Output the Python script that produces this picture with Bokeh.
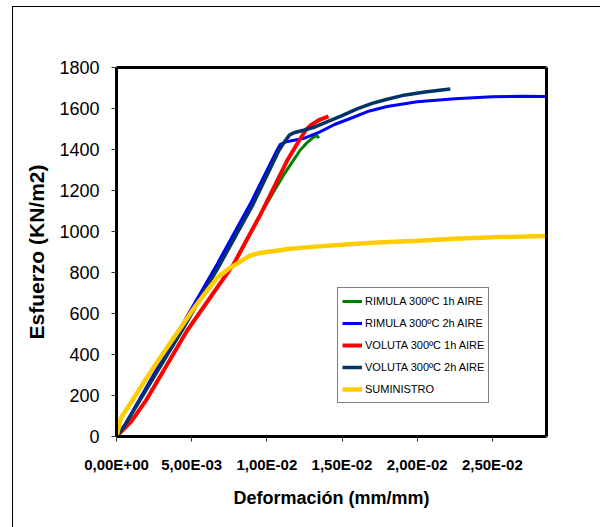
from bokeh.plotting import figure
from bokeh.models import (FixedTicker, CustomJSTickFormatter, Legend, LegendItem,
                          Range1d, LinearAxis)
from bokeh.embed import file_html
from bokeh.resources import INLINE

# ---------------- data ----------------
green_x = [0, 0.001, 0.002, 0.0047, 0.0078, 0.0096, 0.0105, 0.0112, 0.0117, 0.0122, 0.0127, 0.0131, 0.01335, 0.01345]
green_y = [0, 75, 180, 517, 842, 1086, 1200, 1285, 1340, 1395, 1435, 1460, 1467, 1455]

blue_x = [0, 0.0005, 0.00415, 0.0067, 0.0089, 0.0107, 0.0109, 0.0113, 0.0125, 0.0135, 0.0145, 0.0155, 0.0167,
          0.018, 0.020, 0.0225, 0.025, 0.027, 0.0286]
blue_y = [0, 50, 517, 842, 1135, 1400, 1425, 1438, 1455, 1485, 1522, 1550, 1585,
          1610, 1633, 1648, 1657, 1660, 1658]

red_x = [0, 0.001, 0.002, 0.0047, 0.0078, 0.0096, 0.01135, 0.0122, 0.0126, 0.0129, 0.0135, 0.0141]
red_y = [0, 75, 180, 517, 842, 1086, 1346, 1450, 1495, 1517, 1545, 1561]

navy_x = [0, 0.0005, 0.00435, 0.0069, 0.0091, 0.0108, 0.0112, 0.0115, 0.0118, 0.0125, 0.0132, 0.014, 0.015,
          0.016, 0.017, 0.018, 0.019, 0.0205, 0.0222]
navy_y = [0, 48, 517, 842, 1135, 1395, 1440, 1470, 1482, 1495, 1510, 1535, 1565,
          1598, 1625, 1645, 1663, 1680, 1695]

yellow_x = [0, 0.0003, 0.001, 0.002, 0.003, 0.00414, 0.005, 0.0058, 0.0067, 0.0075, 0.0085, 0.0089, 0.0095,
            0.0105, 0.01157, 0.013, 0.015, 0.017, 0.020, 0.0225, 0.025, 0.0286]
yellow_y = [0, 90, 170, 285, 395, 517, 610, 690, 775, 820, 865, 883, 895,
            905, 916, 925, 935, 945, 955, 965, 972, 978]

series_names = ["RIMULA 300ºC 1h AIRE", "RIMULA 300ºC 2h AIRE", "VOLUTA 300ºC 1h AIRE",
                "VOLUTA 300ºC 2h AIRE", "SUMINISTRO"]

x_tick_values = [0, 0.005, 0.010, 0.015, 0.020, 0.025]
x_tick_labels = ["0,00E+00", "5,00E-03", "1,00E-02", "1,50E-02", "2,00E-02", "2,50E-02"]
y_tick_values = [0, 200, 400, 600, 800, 1000, 1200, 1400, 1600, 1800]

# ---------------- figure ----------------
p = figure(frame_width=430, frame_height=369,
           min_border_left=103, min_border_top=60, min_border_right=54, min_border_bottom=91,
           x_range=Range1d(0, 0.0286), y_range=Range1d(0, 1800),
           output_backend="svg", toolbar_location=None,
           background_fill_color="white", border_fill_color="white")
p.margin = (6, 0, 0, 12)
p.styles = {"border-left": "1px solid black", "border-top": "1px solid black"}
p.xgrid.visible = False
p.ygrid.visible = False
p.outline_line_color = None

FONT = "Liberation Sans"

p.xaxis.ticker = FixedTicker(ticks=x_tick_values)
p.xaxis.formatter = CustomJSTickFormatter(
    args=dict(vals=x_tick_values, labels=x_tick_labels),
    code="const i = vals.findIndex(v => Math.abs(v - tick) < 1e-9); return i >= 0 ? labels[i] : '';")
p.yaxis.ticker = FixedTicker(ticks=y_tick_values)

for ax in (p.xaxis, p.yaxis):
    ax.axis_line_color = "black"
    ax.axis_line_width = 3
    ax.major_tick_line_color = "#333333"
    ax.major_tick_line_width = 1
    ax.major_tick_in = 0
    ax.major_tick_out = 5
    ax.minor_tick_line_color = None
    ax.major_label_text_font = FONT
    ax.major_label_text_color = "black"
    ax.axis_label_text_font = FONT
    ax.axis_label_text_font_style = "bold"
    ax.axis_label_text_color = "black"

p.xaxis.major_label_text_font_size = "15px"
p.xaxis.major_label_text_font_style = "bold"
p.xaxis.major_label_standoff = 14
p.xaxis.axis_label = "Deformación (mm/mm)"
p.xaxis.axis_label_text_font_size = "18px"
p.xaxis.axis_label_standoff = 12

p.yaxis.major_label_text_font_size = "18px"
p.yaxis.major_label_standoff = 12
p.yaxis.axis_label = "Esfuerzo (KN/m2)"
p.yaxis.axis_label_text_font_size = "21px"
p.yaxis.axis_label_standoff = 8

# top and right frame edges as bare axes
for side in ("above", "right"):
    a = LinearAxis(axis_line_color="black", axis_line_width=3,
                   major_tick_line_color=None, minor_tick_line_color=None,
                   major_label_text_font_size="0px", major_label_text_alpha=0)
    p.add_layout(a, side)

r_green = p.line(green_x, green_y, line_color="#008000", line_width=3)
r_blue = p.line(blue_x, blue_y, line_color="#0000FF", line_width=3)
r_red = p.line(red_x, red_y, line_color="#FF0000", line_width=4)
r_navy = p.line(navy_x, navy_y, line_color="#003366", line_width=3.5)
r_yellow = p.line(yellow_x, yellow_y, line_color="#FFCC00", line_width=4.5)

renderers = [r_green, r_blue, r_red, r_navy, r_yellow]
legend = Legend(items=[LegendItem(label=n, renderers=[r]) for n, r in zip(series_names, renderers)],
                location=(221, 33), orientation="vertical",
                border_line_color="black", border_line_width=1,
                background_fill_color="white", background_fill_alpha=1,
                label_text_font=FONT, label_text_font_size="11px", label_text_color="black",
                glyph_width=20, glyph_height=18, label_height=18, label_standoff=3,
                spacing=4, padding=4, margin=0)
p.add_layout(legend, "center")

open("out.html", "w").write(file_html(p, INLINE))
